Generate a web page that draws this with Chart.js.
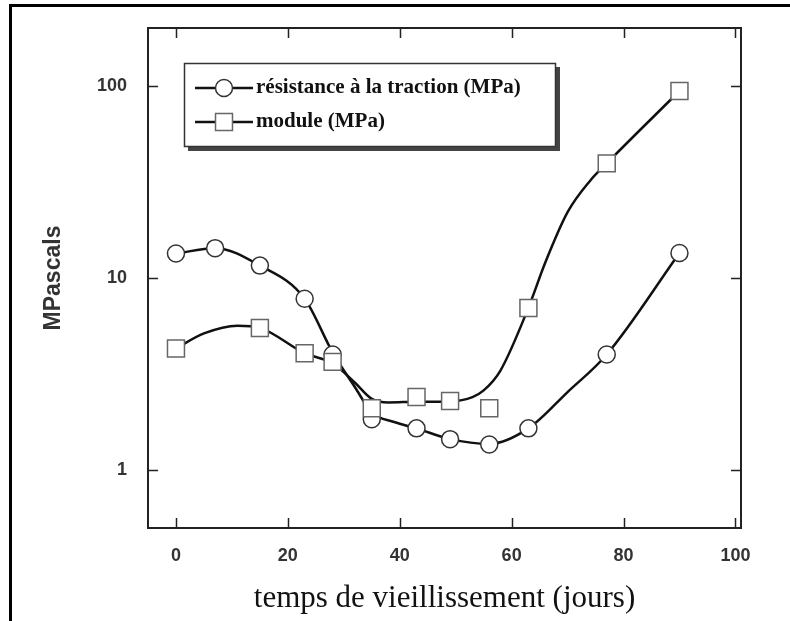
<!DOCTYPE html>
<html>
<head>
<meta charset="utf-8">
<script src="https://cdn.jsdelivr.net/npm/chart.js@4.4.1/dist/chart.umd.min.js"></script>
<style>
  html, body { margin: 0; padding: 0; background: #fff; }
  #wrap { position: relative; width: 790px; height: 621px; overflow: hidden; }
  #wrap canvas { position: absolute; left: 0; top: 0; }
  #frame { position: absolute; left: 9px; top: 4px; width: 820px; height: 700px;
           border-left: 3px solid #000; border-top: 3px solid #000; pointer-events: none; }
</style>
</head>
<body>
<div id="wrap">
  <canvas id="chart" width="790" height="621"></canvas>
  <div id="frame"></div>
</div>
<script>
// tick labels
const xTicks = [0, 20, 40, 60, 80, 100];
const yTicks = [1, 10, 100];

// measured points
const daysResist = [0, 7, 15, 23, 28, 35, 43, 49, 56, 63, 77, 90];
const resist     = [13.4, 14.3, 11.6, 7.8, 4.0, 1.84, 1.65, 1.45, 1.36, 1.65, 4.0, 13.5];
const daysModule = [0, 15, 23, 28, 35, 43, 49, 56, 63, 77, 90];
const modulus    = [4.3, 5.5, 4.06, 3.66, 2.1, 2.4, 2.29, 2.1, 6.98, 39.5, 94];

// fitted curves as traced on the figure
const fitResistX = [0, 7, 15, 23, 28, 32, 35, 39, 43, 49, 56, 63, 70, 77, 90];
const fitResistY = [13.4, 14.3, 11.6, 7.8, 4.1, 2.7, 2.0, 1.78, 1.65, 1.45, 1.37, 1.65, 2.55, 4.0, 13.5];
const fitModuleX = [0, 5, 11, 15, 23, 28, 32, 35, 38, 43, 49, 53, 55, 58, 63, 66, 70, 74, 77, 90];
const fitModuleY = [4.3, 5.15, 5.65, 5.5, 4.06, 3.6, 2.85, 2.35, 2.25, 2.27, 2.28, 2.4, 2.6, 3.3, 7.0, 12, 22, 32, 39.5, 94];

const labels = ['résistance à la traction (MPa)', 'module (MPa)'];

const pts = (xs, ys) => xs.map((x, i) => ({ x, y: ys[i] }));

const boxPlugin = {
  id: 'boxPlugin',
  afterDraw(chart) {
    const { ctx, chartArea: a, scales: { x, y } } = chart;
    ctx.save();
    // plot frame
    ctx.strokeStyle = '#222';
    ctx.lineWidth = 2;
    ctx.strokeRect(a.left, a.top, a.right - a.left, a.bottom - a.top);
    // inward ticks on all four sides
    ctx.lineWidth = 1.5;
    ctx.beginPath();
    x.ticks.forEach(t => {
      const px = Math.round(x.getPixelForValue(t.value)) + 0.5;
      ctx.moveTo(px, a.bottom); ctx.lineTo(px, a.bottom - 10);
      ctx.moveTo(px, a.top); ctx.lineTo(px, a.top + 10);
    });
    y.ticks.forEach(t => {
      const py = Math.round(y.getPixelForValue(t.value)) + 0.5;
      ctx.moveTo(a.left, py); ctx.lineTo(a.left + 10, py);
      ctx.moveTo(a.right, py); ctx.lineTo(a.right - 10, py);
    });
    ctx.stroke();

    // legend box with shadow
    ctx.fillStyle = '#444';
    ctx.fillRect(188, 67, 372, 84);
    ctx.fillStyle = '#fff';
    ctx.fillRect(184, 63, 372, 84);
    ctx.strokeStyle = '#333';
    ctx.lineWidth = 1.5;
    ctx.strokeRect(184.5, 63.5, 371, 83);

    const rows = [{ ds: 1, y: 88 }, { ds: 0, y: 122 }];
    rows.forEach((r, i) => {
      const d = chart.data.datasets[r.ds];
      ctx.strokeStyle = '#111';
      ctx.lineWidth = 2.5;
      ctx.beginPath();
      ctx.moveTo(195, r.y); ctx.lineTo(253, r.y);
      ctx.stroke();
      ctx.fillStyle = d.backgroundColor;
      ctx.strokeStyle = d.borderColor;
      ctx.lineWidth = d.pointBorderWidth;
      ctx.beginPath();
      if (d.pointStyle === 'rect') {
        const s = d.pointRadius * Math.SQRT1_2;
        ctx.rect(224 - s, r.y - s, 2 * s, 2 * s);
      } else {
        ctx.arc(224, r.y, d.pointRadius, 0, Math.PI * 2);
      }
      ctx.fill(); ctx.stroke();
      ctx.fillStyle = '#111';
      ctx.font = 'bold 21px "Liberation Serif"';
      ctx.textBaseline = 'middle';
      ctx.fillText(labels[i], 256, r.y);
    });
    ctx.restore();
  }
};

new Chart(document.getElementById('chart'), {
  type: 'scatter',
  data: {
    datasets: [
      { label: labels[1], data: pts(daysModule, modulus), showLine: false, pointStyle: 'rect',
        pointRadius: 12, backgroundColor: '#fff', borderColor: '#666', pointBorderWidth: 1.5, order: 0 },
      { label: labels[0], data: pts(daysResist, resist), showLine: false, pointStyle: 'circle',
        pointRadius: 8.5, backgroundColor: '#fff', borderColor: '#333', pointBorderWidth: 1.5, order: 1 },
      { label: 'fit module', data: pts(fitModuleX, fitModuleY), showLine: true, pointRadius: 0,
        borderColor: '#111', borderWidth: 2.5, cubicInterpolationMode: 'monotone', order: 2 },
      { label: 'fit resist', data: pts(fitResistX, fitResistY), showLine: true, pointRadius: 0,
        borderColor: '#111', borderWidth: 2.5, cubicInterpolationMode: 'monotone', order: 3 }
    ]
  },
  options: {
    responsive: false, animation: false, devicePixelRatio: 1,
    layout: { padding: { top: 28, right: 49, left: 0, bottom: 0 } },
    plugins: { legend: { display: false }, tooltip: { enabled: false } },
    scales: {
      x: {
        type: 'linear', min: -5, max: 101,
        grid: { display: false, drawTicks: false }, border: { display: false },
        afterBuildTicks: s => { s.ticks = xTicks.map(v => ({ value: v })); },
        afterFit: s => { s.height = 93; },
        ticks: { color: '#333', padding: 17, maxRotation: 0, autoSkip: false,
                 font: { family: 'Liberation Sans', size: 18, weight: 'bold' } },
        title: { display: true, text: 'temps de vieillissement (jours)', color: '#111',
                 font: { family: 'Liberation Serif', size: 31, lineHeight: 1 }, padding: { top: 0, bottom: 7 } }
      },
      y: {
        type: 'logarithmic', min: 0.5, max: 200,
        grid: { display: false, drawTicks: false }, border: { display: false },
        afterBuildTicks: s => { s.ticks = yTicks.map(v => ({ value: v })); },
        afterFit: s => { s.width = 148; s.paddingTop = 0; s.paddingBottom = 0; },
        ticks: { color: '#333', padding: 21, callback: v => String(v),
                 font: { family: 'Liberation Sans', size: 18, weight: 'bold' } },
        title: { display: true, text: 'MPascals', color: '#333',
                 font: { family: 'Liberation Sans', size: 23, weight: 'bold', lineHeight: 1 }, padding: { top: 42, bottom: 0 } }
      }
    }
  },
  plugins: [boxPlugin]
});
</script>
</body>
</html>
